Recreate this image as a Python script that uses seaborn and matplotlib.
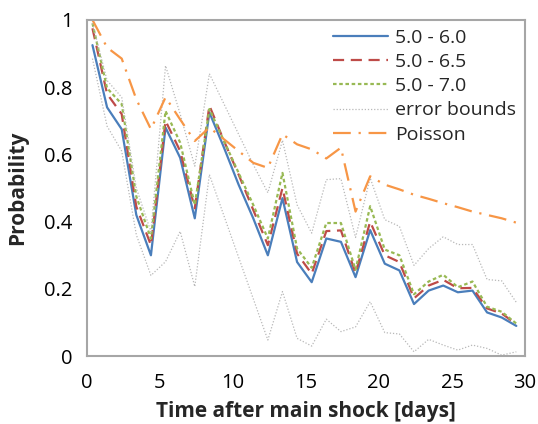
import matplotlib
matplotlib.use("Agg")
import matplotlib.pyplot as plt
import seaborn as sns

# datos
dias = [0.4, 1.4, 2.4, 3.4, 4.4, 5.4, 6.4, 7.4, 8.4, 9.4,
        10.4, 11.4, 12.4, 13.4, 14.4, 15.4, 16.4, 17.4, 18.4, 19.4,
        20.4, 21.4, 22.4, 23.4, 24.4, 25.4, 26.4, 27.4, 28.4, 29.4]

m60 = [0.925, 0.74, 0.675, 0.42, 0.30, 0.68, 0.59, 0.41, 0.725, 0.62,
       0.51, 0.41, 0.30, 0.47, 0.28, 0.22, 0.35, 0.34, 0.235, 0.375,
       0.275, 0.255, 0.155, 0.195, 0.21, 0.19, 0.195, 0.13, 0.115, 0.09]
m65 = [0.975, 0.78, 0.72, 0.445, 0.33, 0.70, 0.61, 0.44, 0.745, 0.64,
       0.54, 0.435, 0.33, 0.50, 0.305, 0.245, 0.372, 0.374, 0.247, 0.40,
       0.30, 0.28, 0.172, 0.21, 0.227, 0.202, 0.203, 0.142, 0.127, 0.095]
m70 = [0.99, 0.797, 0.75, 0.475, 0.35, 0.729, 0.635, 0.45, 0.735, 0.64,
       0.545, 0.45, 0.35, 0.545, 0.32, 0.263, 0.396, 0.396, 0.257, 0.446,
       0.317, 0.30, 0.184, 0.222, 0.242, 0.205, 0.222, 0.147, 0.132, 0.097]
superior = [0.99, 0.82, 0.77, 0.50, 0.37, 0.864, 0.72, 0.565, 0.84, 0.75,
            0.66, 0.57, 0.486, 0.642, 0.45, 0.366, 0.525, 0.528, 0.353, 0.53,
            0.406, 0.386, 0.27, 0.32, 0.355, 0.332, 0.332, 0.228, 0.224, 0.16]
inferior = [0.885, 0.684, 0.61, 0.361, 0.24, 0.281, 0.371, 0.207, 0.54, 0.417,
            0.294, 0.171, 0.048, 0.192, 0.053, 0.03, 0.11, 0.073, 0.087, 0.162,
            0.07, 0.066, 0.013, 0.05, 0.033, 0.018, 0.033, 0.023, 0.003, 0.013]
poisson = [1.0, 0.918, 0.885, 0.764, 0.675, 0.77, 0.704, 0.64, 0.68, 0.645,
           0.61, 0.575, 0.56, 0.66, 0.63, 0.615, 0.588, 0.62, 0.43, 0.535,
           0.51, 0.496, 0.48, 0.468, 0.455, 0.443, 0.43, 0.42, 0.41, 0.397]

sns.set_style("white")
plt.rcParams["font.family"] = ["Open Sans", "DejaVu Sans"]

gris = "#a6a6a6"

fig, ax = plt.subplots(figsize=(5.38, 4.24), dpi=100)
fig.subplots_adjust(left=0.161, right=0.976, top=0.953, bottom=0.160)

sns.lineplot(x=dias, y=m60, ax=ax, color="#4a7ebb", lw=1.6, label="5.0 - 6.0")
sns.lineplot(x=dias, y=m65, ax=ax, color="#be4b48", lw=1.6, label="5.0 - 6.5",
             linestyle=(0, (5, 3)))
sns.lineplot(x=dias, y=m70, ax=ax, color="#98b954", lw=1.6, label="5.0 - 7.0",
             linestyle=(0, (1.6, 1.2)))
sns.lineplot(x=dias, y=superior, ax=ax, color="#b8b8b8", lw=0.9,
             linestyle=(0, (1, 1.5)), label="error bounds")
sns.lineplot(x=dias, y=inferior, ax=ax, color="#b8b8b8", lw=0.9,
             linestyle=(0, (1, 1.5)))
sns.lineplot(x=dias, y=poisson, ax=ax, color="#f79646", lw=1.6, label="Poisson",
             linestyle=(0, (8, 3.5, 1, 3.5)))

ax.set_xlim(0, 30)
ax.set_ylim(0, 1)
ax.set_xticks([0, 5, 10, 15, 20, 25, 30])
ax.set_yticks([0, 0.2, 0.4, 0.6, 0.8, 1])
ax.set_yticklabels(["0", "0.2", "0.4", "0.6", "0.8", "1"])

for lado in ax.spines.values():
    lado.set_color(gris)
    lado.set_linewidth(1.5)

ax.tick_params(direction="out", length=6, width=1.5, color=gris,
               labelsize=14.5, labelcolor="black", pad=4)
ax.tick_params(axis="x", pad=6)

ax.set_xlabel("Time after main shock [days]", fontsize=15, fontweight="bold",
              labelpad=6)
ax.set_ylabel("Probability", fontsize=15, fontweight="bold", labelpad=12)

ax.legend(loc="upper right", frameon=False, fontsize=14, handlelength=2.8,
          handletextpad=0.4, labelspacing=0.32, borderaxespad=0.05,
          bbox_to_anchor=(1.0, 1.0))

fig.savefig("out.png", dpi=100)
